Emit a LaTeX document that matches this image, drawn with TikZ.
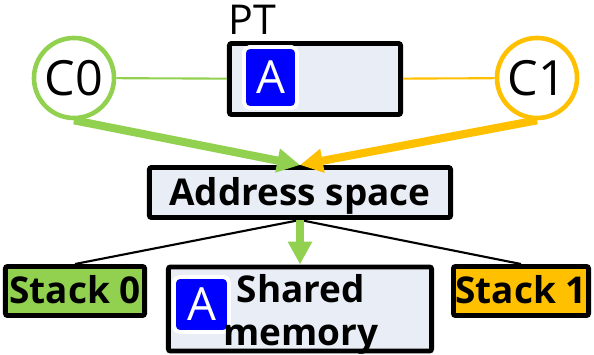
\documentclass[tikz,border=0pt]{standalone}
\usepackage{fontspec}
\setmainfont{Open Sans}
\usepackage{tikz}
\usetikzlibrary{arrows.meta}
\definecolor{cgreen}{HTML}{92D050}
\definecolor{corange}{HTML}{FFC000}
\definecolor{boxfill}{HTML}{E9EEF6}

\begin{document}
\begin{tikzpicture}[x=0.01cm, y=-0.01cm]
\tikzset{box/.style={draw=black, fill=boxfill, line width=1.4pt, rounded corners=0.6pt, inner sep=0pt},
  lbl/.style={font=\bfseries\fontsize{10.5}{12}\selectfont, text height=0.72em, text depth=0pt},
  core/.style={circle, draw=#1, line width=1.3pt, minimum size=0.8cm, inner sep=0pt, font=\fontsize{13.8}{16}\selectfont},
  badge/.style={fill=blue, draw=white, line width=1.1pt, rounded corners=1.6pt, text=white, inner sep=0pt, font=\fontsize{13}{15}\selectfont},
  stk/.style={box, lbl, fill=#1},
  link/.style={draw=#1, line width=0.6pt},
  fat/.style={draw=#1, line width=2.3pt, -{Triangle[length=6.5pt,width=6.5pt]}}}
\useasboundingbox (0,0) rectangle (594,355);

\node[box, minimum width=1.71cm, minimum height=0.71cm] (pt) at (315,79) {};
\node[badge, minimum width=0.53cm, minimum height=0.61cm] (ptA) at (270.5,77.5) {A};
\node[anchor=base, inner sep=0pt, font=\fontsize{11.7}{14}\selectfont] (ptname) at (252,35) {PT};
\node[core=cgreen] (c0) at (74,78) {C0};
\node[core=corange] (c1) at (537,78) {C1};

\node[box, lbl, minimum width=3.01cm, minimum height=0.50cm] (addr) at (300,192.5) {Address space};
\node[stk=cgreen, minimum width=1.39cm, minimum height=0.49cm] (stack0) at (75,291) {Stack 0};
\node[stk=corange, minimum width=1.35cm, minimum height=0.49cm] (stack1) at (521,291) {Stack 1};
\node[box, minimum width=2.63cm, minimum height=0.84cm] (shared) at (300,309) {};
\node[badge, minimum size=0.55cm] (memA) at (201.5,304.5) {A};
\node[align=center, inner sep=0pt, font=\bfseries\fontsize{10.5}{12.2}\selectfont] (memtext) at (301,314) {Shared\\memory};

\draw[link=cgreen] (c0) -- (pt);
\draw[link=corange] (pt) -- (c1);
\draw[line width=0.6pt] (addr.south) -- (stack0.north);
\draw[line width=0.6pt] (addr.south) -- (stack1.north);
\draw[fat=cgreen] (c0.south) -- (addr.north);
\draw[fat=corange] (c1.south) -- (addr.north);
\draw[fat=cgreen] (addr.south) -- (shared.north);

\end{tikzpicture}
\end{document}
